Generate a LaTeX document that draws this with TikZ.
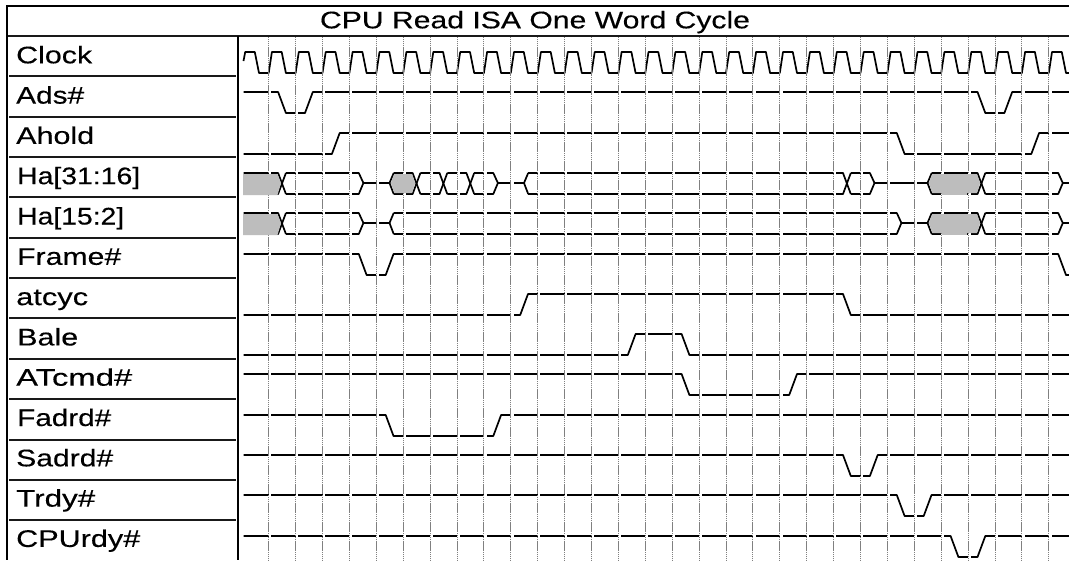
\documentclass[tikz,border=0pt]{standalone}
\usepackage{fontspec}
\setmainfont[FakeBold=0.25]{Liberation Sans}
\newcommand\lblfont{\fontsize{24}{28}\selectfont}
\newcommand\stretched[2]{\resizebox{#1pt}{\height}{\lblfont #2}}
\tikzset{
  sigline/.style={draw=black,line width=1.7pt,line join=round},
  gridl/.style={draw=black!50,line width=1pt,dash pattern=on 1.4pt off 0.5pt},
  frameline/.style={draw=black,line width=2pt},
  sepline/.style={draw=black!90,line width=1.7pt},
  shade/.style={fill=black!26,draw=none},
  lbl/.style={anchor=base west,inner sep=0pt,text=black},
}
% x position of a grid line / of a transition in cycle k
\newcommand\cyc[1]{\pgfmathsetmacro\xk{268.7+26.9*(#1)}}
\newcommand\levels[1]{%
  \pgfmathsetmacro\yh{round(52+40.3*(#1))}%
  \pgfmathsetmacro\yl{\yh+21}%
  \pgfmathsetmacro\ym{\yh+10}%
}
% digital signal: row, starting level (0 = high, 1 = low), cycles of the toggles
\newcommand\digital[3]{%
  \levels{#1}%
  \ifnum#2=0 \xdef\ycur{\yh}\xdef\ynxt{\yl}\else \xdef\ycur{\yl}\xdef\ynxt{\yh}\fi
  \xdef\wpath{(243.5,\ycur)}%
  \foreach \k in {#3}{%
    \cyc{\k}%
    \pgfmathsetmacro\xa{\xk+9.4}\pgfmathsetmacro\xb{\xk+17.2}%
    \xdef\wpath{\wpath -- (\xa,\ycur) -- (\xb,\ynxt)}%
    \xdef\ytmp{\ycur}\xdef\ycur{\ynxt}\xdef\ynxt{\ytmp}%
  }%
  \draw[sigline] \wpath -- (1069,\ycur);%
}
% bus signal: events x = crossing, c = close to mid level, o = open from mid level
\newcommand\bus[2]{%
  \levels{#1}%
  \xdef\cx{243.5}%
  \foreach \t/\k in {#2}{%
    \cyc{\k}%
    \if\t x
      \pgfmathsetmacro\xa{\xk+9.4}\pgfmathsetmacro\xb{\xk+17.2}%
      \draw[sigline] (\cx,\yh) -- (\xa,\yh) -- (\xb,\yl);%
      \draw[sigline] (\cx,\yl) -- (\xa,\yl) -- (\xb,\yh);%
      \xdef\cx{\xb}%
    \fi
    \if\t c
      \pgfmathsetmacro\xa{\xk+9.4}\pgfmathsetmacro\xb{\xk+14}%
      \draw[sigline] (\cx,\yh) -- (\xa,\yh) -- (\xb,\ym) -- (\xa,\yl) -- (\cx,\yl);%
      \xdef\cx{\xb}%
    \fi
    \if\t o
      \pgfmathsetmacro\xa{\xk+13.2}\pgfmathsetmacro\xb{\xk+17.4}%
      \draw[sigline] (\cx,\ym) -- (\xa,\ym) -- (\xb,\yh);%
      \draw[sigline] (\xa,\ym) -- (\xb,\yl);%
      \xdef\cx{\xb}%
    \fi
  }%
  \draw[sigline] (\cx,\ym) -- (1069,\ym);%
}
% shaded hexagon between an opening in cycle #2 and a crossing in cycle #3
\newcommand\hexshade[3]{%
  \levels{#1}%
  \cyc{#2}\pgfmathsetmacro\xa{\xk+14.6}\pgfmathsetmacro\xb{\xk+18}%
  \cyc{#3}\pgfmathsetmacro\xc{\xk+8.8}\pgfmathsetmacro\xd{\xk+12}%
  \fill[shade] (\xa,\ym) -- (\xb,\yh+1) -- (\xc,\yh+1) -- (\xd,\ym) -- (\xc,\yl-1) -- (\xb,\yl-1) -- cycle;%
}
\newcommand\startshade[1]{%
  \levels{#1}%
  \fill[shade] (243,\yh+1) -- (277.5,\yh+1) -- (281,\ym) -- (277.5,\yl+1.1) -- (243,\yl+1.1) -- cycle;%
}
\begin{document}
\begin{tikzpicture}[x=1pt,y=-1pt]
\useasboundingbox (0,0) rectangle (1069,560);
\fill[white] (0,0) rectangle (1069,560);

% signals
% clock
\xdef\wpath{(243.5,61) -- (245.2,52)}
\foreach \k in {-1,...,29}{%
  \cyc{\k}%
  \pgfmathsetmacro\xa{\xk+13}\pgfmathsetmacro\xb{\xk+17.2}%
  \ifnum\k>-1
    \pgfmathsetmacro\xr{\xk+3.2}%
    \xdef\wpath{\wpath -- (\xk,73) -- (\xr,52)}%
  \fi
  \xdef\wpath{\wpath -- (\xa,52) -- (\xb,73)}%
}
\draw[sigline] \wpath -- (1069,73);

\digital{1}{0}{0,1,26,27}
\digital{2}{1}{2,23,28}
\bus{3}{x/0,c/3,o/4,x/5,x/6,x/7,c/8,o/9,x/21,c/22,o/24,x/26,c/29}
\bus{4}{x/0,c/3,o/4,c/23,o/24,x/26,c/29}
\digital{5}{0}{3,4,29}
\digital{6}{1}{9,21}
\digital{7}{1}{13,15}
\digital{8}{0}{15,19}
\digital{9}{0}{4,8}
\digital{10}{0}{21,22}
\digital{11}{0}{23,24}
\digital{12}{0}{25,26}

% white notches beside the grid lines, then the grid lines
\foreach \k in {0,...,29}{%
  \cyc{\k}%
  \fill[white] (\xk,85) rectangle (\xk+2.7,560);%
  \draw[gridl] (\xk,37) -- (\xk,560);%
}

% shaded bus regions
\startshade{3}
\startshade{4}
\hexshade{3}{4}{5}
\hexshade{3}{24}{26}
\hexshade{4}{24}{26}
\fill[shade] (941.7,192) rectangle (966.7,195.1);
\fill[shade] (941.7,232) rectangle (966.7,235.3);

% table frame
\draw[frameline] (1069,6) -- (7,6) -- (7,560);
\draw[sepline] (8,36) -- (1069,36);
\draw[frameline] (237.5,36) -- (237.5,560);
\foreach \r in {1,...,12}{%
  \pgfmathsetmacro\ys{round(36+40.35*\r)}%
  \draw[sepline] (9.3,\ys) -- (236,\ys);%
}

% texts
\node[inner sep=0pt,anchor=base,text=black] (title) at (535,28.3) {\stretched{430}{CPU Read ISA One Word Cycle}};
\node[lbl] (clock)  at (16,63.3)  {\stretched{76}{Clock}};
\node[lbl] (ads)    at (16,103.6) {\stretched{68}{Ads\#}};
\node[lbl] (ahold)  at (16,143.9) {\stretched{78}{Ahold}};
\node[lbl] (hahi)   at (17,184.2) {\stretched{123}{Ha[31:16]}};
\node[lbl] (halo)   at (17,224.5) {\stretched{107}{Ha[15:2]}};
\node[lbl] (frame)  at (17,264.8) {\stretched{104}{Frame\#}};
\node[lbl] (atcyc)  at (16,305.1) {\stretched{72}{atcyc}};
\node[lbl] (bale)   at (17,345.4) {\stretched{61}{Bale}};
\node[lbl] (atcmd)  at (16,385.7) {\stretched{116}{ATcmd\#}};
\node[lbl] (fadrd)  at (17,426)   {\stretched{94}{Fadrd\#}};
\node[lbl] (sadrd)  at (16,466.3) {\stretched{97}{Sadrd\#}};
\node[lbl] (trdy)   at (16,506.6) {\stretched{79}{Trdy\#}};
\node[lbl] (cpurdy) at (16,546.9) {\stretched{124}{CPUrdy\#}};
\end{tikzpicture}
\end{document}
